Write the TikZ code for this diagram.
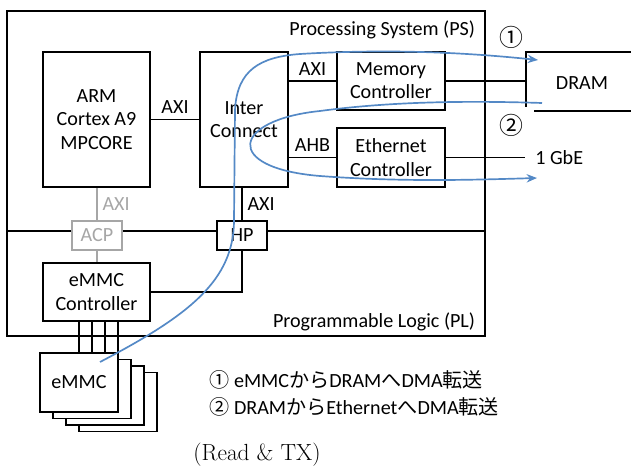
\documentclass[tikz,border=0pt]{standalone}
\usepackage{fontspec}
\usepackage{xcolor}
\usetikzlibrary{arrows.meta}
\newfontfamily\calfont{Carlito}
\newfontfamily\cjkfont{Noto Sans CJK JP}
\definecolor{flowblue}{RGB}{84,137,198}

\begin{document}
\begin{tikzpicture}[
  font=\calfont\fontsize{14.3}{16.5}\selectfont,
  >={Stealth[length=2.6mm,width=2.1mm]},
  blk/.style={draw, line width=1.3pt, align=center, fill=white},
  greyblk/.style={blk, draw=black!35, text=black!35},
  wire/.style={line width=1.2pt},
  greywire/.style={wire, draw=black!35},
  flow/.style={->, line width=1.2pt, draw=flowblue}
]
  \useasboundingbox (0,0) rectangle (15.775,11.75);

  % PS / PL frame
  \draw[line width=1.3pt] (0.175,3.35) rectangle (12.125,11.475);
  \draw[wire] (0.175,5.975) -- (12.125,5.975);
  \node[anchor=east] (pslbl) at (12.0,11.0) {Processing System (PS)};
  \node[anchor=east] (pllbl) at (12.0,3.7) {Programmable Logic (PL)};

  \node[blk, minimum width=2.675cm, minimum height=3.375cm] (arm) at (2.4125,8.7625) {ARM\\Cortex A9\\MPCORE};
  \node[blk, minimum width=2.2cm, minimum height=3.375cm] (ic) at (6.1,8.7625) {Inter\\Connect};
  \node[blk, minimum width=2.7cm, minimum height=1.45cm] (mem) at (9.775,9.725) {Memory\\Controller};
  \node[blk, minimum width=2.7cm, minimum height=1.475cm] (eth) at (9.775,7.8125) {Ethernet\\Controller};
  \node[blk, minimum width=1.25cm, minimum height=0.725cm, inner sep=0pt] (hp) at (6.05,5.8625) {HP};
  \node[greyblk, minimum width=1.25cm, minimum height=0.725cm, inner sep=0pt] (acp) at (2.425,5.8625) {ACP};
  \node[blk, minimum width=2.675cm, minimum height=1.45cm] (ectl) at (2.4125,4.45) {eMMC\\Controller};

  % DRAM (open to the right)
  \draw[wire] (15.775,10.45) -- (13.15,10.45) -- (13.15,9.075);
  \draw[wire] (13.35,8.975) -- (15.775,8.975);
  \node (dram) at (14.55,9.675) {DRAM};
  \coordinate (dramw) at (13.15,9.725);
  \node[anchor=west, inner xsep=0.25cm] (gbe) at (13.125,7.8125) {1 GbE};

  % eMMC stack
  \foreach \i in {3,2,1}
    \node[blk, minimum width=1.95cm, minimum height=1.475cm] (emmc\i) at ({1.975+0.325*\i},{2.1875-0.1625*\i}) {};
  \node[blk, minimum width=1.95cm, minimum height=1.475cm] (emmc) at (1.975,2.1875) {eMMC};
  \foreach \x in {1.975,2.3,2.625,2.95}
    \draw[wire] (\x,0 |- ectl.south) -- (\x,0 |- emmc.north);

  % buses
  \draw[wire] (arm) -- (ic) node[midway, above] {AXI};
  \draw[wire] (ic.east |- mem.west) -- (mem.west) node[midway, above] {AXI};
  \draw[wire] (ic.east |- eth.west) -- (eth.west) node[midway, above] {AHB};
  \draw[wire] (hp.north |- ic.south) -- (hp.north) node[midway, right] {AXI};
  \draw[greywire] (acp.north |- arm.south) -- (acp.north) node[midway, right, text=black!35] {AXI};
  \draw[greywire] (acp.south) -- (acp.south |- ectl.north);
  \draw[wire] (ectl.east) -| (hp.south);
  \draw[wire] (mem.east) -- (dramw);
  \draw[wire] (eth.east) -- (gbe.west);

  \node[font=\cjkfont\fontsize{17}{19}\selectfont] (n1) at (12.775,10.825) {①};
  \node[font=\cjkfont\fontsize{17}{19}\selectfont] (n2) at (12.775,8.625) {②};

  % DMA paths
  \coordinate (rd) at (2.5,2.7);
  \coordinate (wr) at (13.45,10.25);
  \coordinate (rs) at (13.55,9.175);
  \coordinate (ws) at (13.425,7.3);
  \draw[flow] (rd) .. controls (4.75,3.875) and (5.85,4.75) .. (5.85,6.25)
    -- (5.875,9.0) .. controls (5.925,10.0) and (6.5,10.325) .. (7.5,10.4)
    .. controls (10.0,10.55) and (12.0,10.4) .. (wr);
  \draw[flow] (rs) .. controls (11.25,9.25) and (9.5,9.175) .. (8.0,8.975)
    .. controls (5.8,8.75) and (5.55,7.55) .. (8.0,7.35)
    .. controls (10.0,7.2) and (11.75,7.25) .. (ws);

  % legend
  \node[anchor=west] (leg1) at (5.11,2.25) {{\cjkfont ①} eMMC{\cjkfont から}DRAM{\cjkfont へ}DMA{\cjkfont 転送}};
  \node[anchor=west] (leg2) at (5.11,1.575) {{\cjkfont ②} DRAM{\cjkfont から}Ethernet{\cjkfont へ}DMA{\cjkfont 転送}};
  \node[font=\rmfamily\fontsize{16.6}{19}\selectfont] (note) at (6.425,0.375) {(Read \& TX)};
\end{tikzpicture}
\end{document}
